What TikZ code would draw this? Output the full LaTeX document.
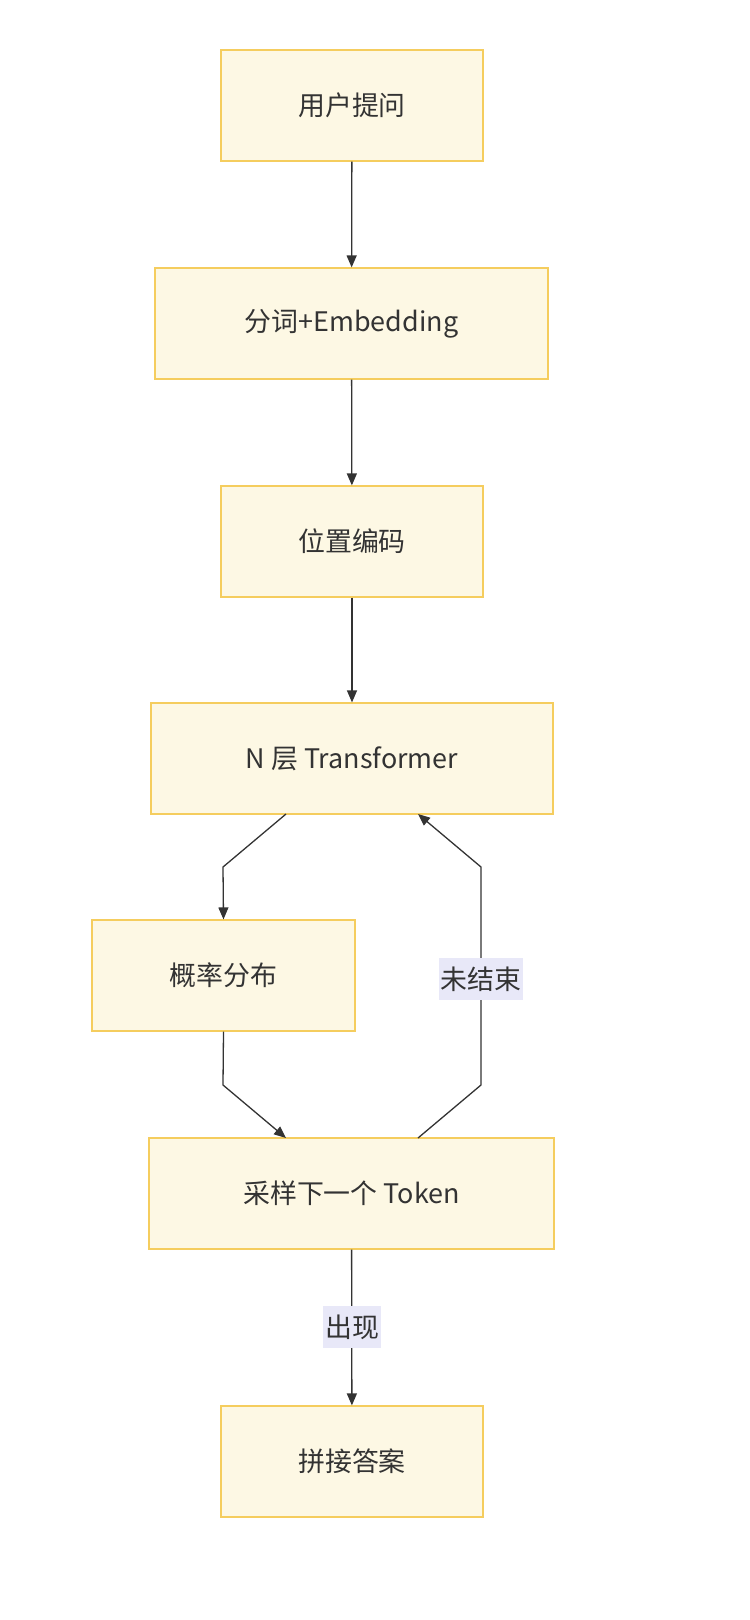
\documentclass[tikz,border=0pt]{standalone}
\usepackage{fontspec}
\setmainfont{Noto Sans CJK SC}
\usetikzlibrary{arrows.meta}
\definecolor{boxfill}{HTML}{FDF8E4}
\definecolor{boxline}{HTML}{F5CD5E}
\definecolor{lblbg}{HTML}{E8E8F8}
\definecolor{txt}{HTML}{333333}
\begin{document}
\begin{tikzpicture}[x=1bp,y=-1bp,
  box/.style={draw=boxline,fill=boxfill,line width=1.2pt,text=txt,font=\fontsize{27}{32}\selectfont,inner sep=0pt},
  arr/.style={draw=txt,line width=1.3pt,-{Triangle[length=12pt,width=10pt]}},
  lbl/.style={fill=lblbg,text=txt,font=\fontsize{27}{32}\selectfont,inner sep=2pt,minimum height=42bp}]
\useasboundingbox (0,0) rectangle (750,1620);
\node[box,minimum width=262bp,minimum height=111bp] (a) at (352,105.5) {用户提问};
\node[box,minimum width=393bp,minimum height=111bp] (b) at (351.5,323.5) {分词+Embedding};
\node[box,minimum width=262bp,minimum height=111bp] (c) at (352,541.5) {位置编码};
\node[box,minimum width=402bp,minimum height=111bp] (d) at (352,758.5) {N 层 Transformer};
\node[box,minimum width=263bp,minimum height=111bp] (e) at (223.5,975.5) {概率分布};
\node[box,minimum width=405bp,minimum height=111bp] (f) at (351.5,1193.5) {采样下一个 Token};
\node[box,minimum width=262bp,minimum height=111bp] (g) at (352,1461.5) {拼接答案};
\draw[arr] (a) -- (b);
\draw[arr] (b) -- (c);
\draw[arr] (c) -- (d);
\draw[arr] (286,814) -- (223,867) -- (e.north);
\draw[arr] (e.south) -- (223,1085) -- (286,1138);
\draw[arr] (418,1138) -- (481,1085) -- (481,867) -- (418,814);
\node[lbl] (l1) at (481,979) {未结束};
\draw[arr] (f) -- (g);
\node[lbl] (l2) at (352,1327) {出现};
\end{tikzpicture}
\end{document}
